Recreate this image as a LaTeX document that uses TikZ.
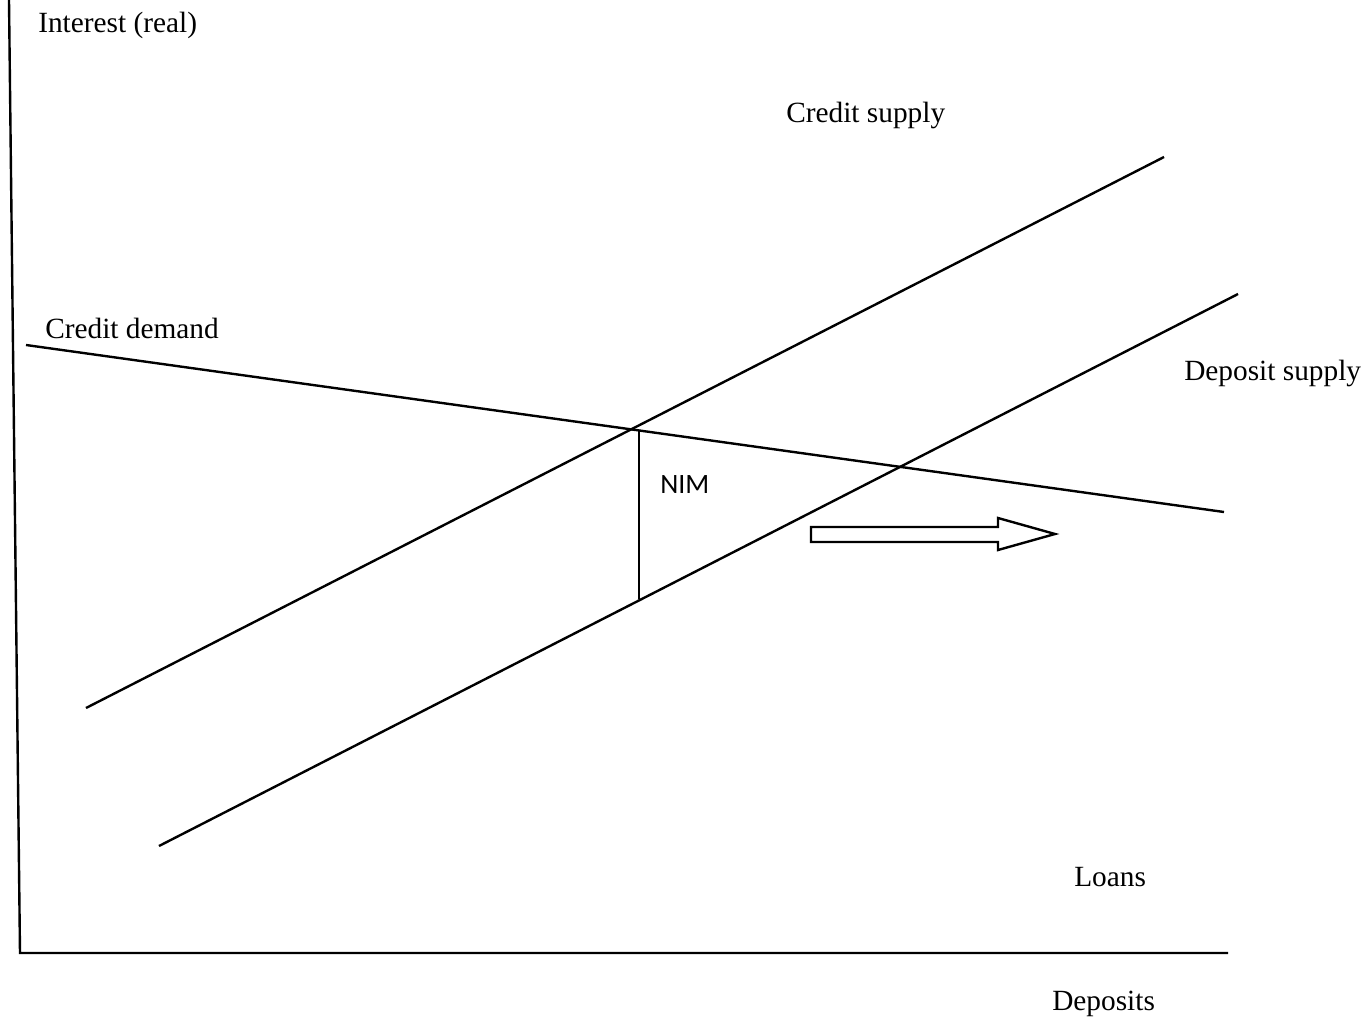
\documentclass[tikz,border=0pt]{standalone}
\usepackage{fontspec}
\setmainfont{Liberation Serif}
\newfontfamily\nimfont{Carlito}
\begin{document}
\begin{tikzpicture}[x=0.75pt,y=-0.75pt,
  curve/.style={line width=1.8pt,black},
  lbl/.style={font=\fontsize{22}{26}\selectfont,inner sep=0pt,anchor=west},
  nimlbl/.style={font=\nimfont\fontsize{21}{25}\selectfont,inner sep=0pt,anchor=west}]
\useasboundingbox (0,0) rectangle (1362,1020);
% axes
\coordinate (ytop) at (9,0);
\coordinate (origin) at (20,953);
\coordinate (xend) at (1228,953);
\draw[curve] (ytop) -- (origin) -- (xend);
% curves
\coordinate (cs1) at (86,708);
\coordinate (cs2) at (1164,157);
\coordinate (ds1) at (159,846);
\coordinate (ds2) at (1238,294);
\coordinate (cd1) at (26,345);
\coordinate (cd2) at (1224,512);
\coordinate (nimtop) at (639,431);
\coordinate (nimbot) at (639,599);
\draw[curve] (cs1) -- (cs2);
\draw[curve] (ds1) -- (ds2);
\draw[curve] (cd1) -- (cd2);
\draw[curve] (nimtop) -- (nimbot);
% block arrow
\draw[line width=1.8pt,fill=white] (811,527) -- (998,527) -- (998,518) -- (1055,534) -- (998,550) -- (998,542) -- (811,542) -- cycle;
% labels
\node[lbl] (yl) at (38,25) {Interest (real)};
\node[lbl] (csl) at (786,115) {Credit supply};
\node[lbl] (cdl) at (45,328) {Credit demand};
\node[lbl] (dsl) at (1184,373) {Deposit supply};
\node[nimlbl] (nim) at (660,485) {NIM};
\node[lbl] (loans) at (1074,877) {Loans};
\node[lbl] (dep) at (1052,1004) {Deposits};
\end{tikzpicture}
\end{document}
